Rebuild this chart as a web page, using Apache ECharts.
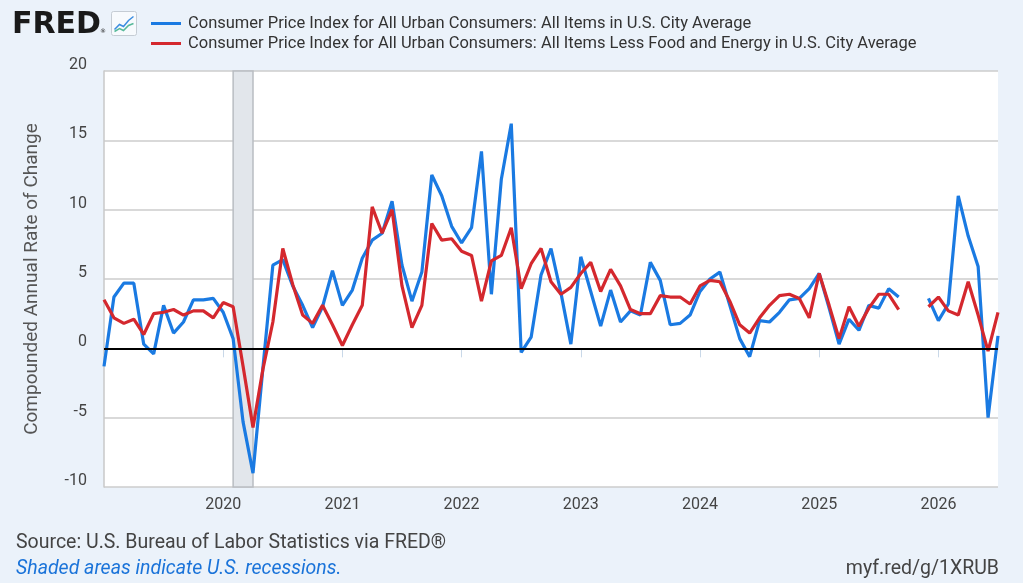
<!DOCTYPE html>
<html><head><meta charset="utf-8">
<script src="https://cdn.jsdelivr.net/npm/echarts/dist/echarts.min.js"></script>
<style>html,body{margin:0;padding:0;background:#ebf2fa;}#c{width:1023px;height:583px;}</style>
</head><body><div id="c"></div>
<script>
// Monthly categories Jan 2019 .. Jul 2026
const months = [];
for (let y = 2019; y <= 2026; y++) {
  for (let m = 1; m <= 12; m++) {
    if (y === 2026 && m > 7) break;
    months.push(y + '-' + String(m).padStart(2, '0'));
  }
}
const cpiAllItems = [
  -1.3, 3.7, 4.7, 4.7, 0.3, -0.4, 3.1, 1.1, 1.9, 3.5, 3.5, 3.6,
  2.6, 0.7, -5.3, -9.0, -1.4, 6.0, 6.4, 4.5, 3.1, 1.5, 3.0, 5.6,
  3.1, 4.2, 6.5, 7.8, 8.3, 10.6, 6.0, 3.4, 5.5, 12.5, 11.0, 8.8,
  7.6, 8.7, 14.2, 3.9, 12.2, 16.2, -0.3, 0.8, 5.3, 7.2, 4.0, 0.3,
  6.6, 4.1, 1.6, 4.2, 1.9, 2.7, 2.4, 6.2, 4.9, 1.7, 1.8, 2.4,
  4.1, 5.0, 5.5, 3.1, 0.7, -0.6, 2.0, 1.9, 2.6, 3.5, 3.6, 4.3,
  5.4, 2.9, 0.3, 2.1, 1.3, 3.1, 2.9, 4.3, 3.7, null, null, 3.6,
  2.0, 3.2, 11.0, 8.1, 5.9, -5.0, 0.9
];
const cpiCore = [
  3.5, 2.2, 1.8, 2.1, 1.0, 2.5, 2.6, 2.8, 2.4, 2.7, 2.7, 2.2,
  3.3, 3.0, -1.3, -5.7, -1.5, 1.9, 7.2, 4.6, 2.4, 1.8, 3.1, 1.7,
  0.2, 1.7, 3.1, 10.2, 8.3, 10.0, 4.5, 1.5, 3.1, 9.0, 7.8, 7.9,
  7.0, 6.7, 3.4, 6.3, 6.7, 8.7, 4.3, 6.1, 7.2, 4.8, 3.9, 4.4,
  5.4, 6.2, 4.1, 5.7, 4.5, 2.8, 2.5, 2.5, 3.8, 3.7, 3.7, 3.2,
  4.5, 4.9, 4.8, 3.4, 1.7, 1.1, 2.2, 3.1, 3.8, 3.9, 3.6, 2.2,
  5.4, 3.1, 0.7, 3.0, 1.6, 2.9, 3.9, 3.9, 2.8, null, null, 3.0,
  3.7, 2.7, 2.4, 4.8, 2.4, -0.2, 2.6
];
const recessionStart = '2020-02';
const recessionEnd = '2020-04';
const seriesNames = [
  'Consumer Price Index for All Urban Consumers: All Items in U.S. City Average',
  'Consumer Price Index for All Urban Consumers: All Items Less Food and Energy in U.S. City Average'
];

const FONT = 'Roboto';
const isYearStart = (i) => months[i].endsWith('-01') && i !== 0;

const chart = echarts.init(document.getElementById('c'));
chart.setOption({
  backgroundColor: '#ebf2fa',
  animation: false,
  grid: { left: 104, right: 25, top: 71, bottom: 96, backgroundColor: '#ffffff', show: true, borderWidth: 0 },
  legend: {
    left: 146, top: 10, orient: 'vertical', icon: 'rect',
    itemWidth: 30, itemHeight: 3, itemGap: 3,
    textStyle: { fontFamily: FONT, fontSize: 16.5, color: '#333', padding: [0, 0, 0, 2] },
    data: seriesNames
  },
  xAxis: {
    type: 'category', data: months, boundaryGap: false,
    axisLine: { show: true, lineStyle: { color: '#c8c8c8', width: 1.5 } },
    axisTick: { show: true, interval: (i) => isYearStart(i), length: 9, lineStyle: { color: '#c9d8e8', width: 1 } },
    axisLabel: {
      interval: (i) => isYearStart(i), formatter: (v) => v.slice(0, 4),
      fontFamily: FONT, fontSize: 16, color: '#444', margin: 10
    },
    splitLine: { show: false }
  },
  yAxis: {
    type: 'value', min: -10, max: 20, interval: 5,
    name: 'Compounded Annual Rate of Change', nameLocation: 'middle', nameGap: 62, nameRotate: 90,
    nameTextStyle: { fontFamily: FONT, fontSize: 19, color: '#555' },
    axisLine: { show: true, lineStyle: { color: '#c8c8c8', width: 1.5 } },
    axisTick: { show: false },
    axisLabel: { fontFamily: FONT, fontSize: 16, color: '#444', margin: 17, verticalAlign: 'bottom', lineHeight: 12 },
    splitLine: { lineStyle: { color: '#cccccc', width: 1.5 } }
  },
  series: [
    {
      name: seriesNames[0], type: 'line', data: cpiAllItems, showSymbol: false, symbol: 'none',
      lineStyle: { color: '#1a7ae2', width: 3.2 }, itemStyle: { color: '#1a7ae2' },
      z: 3,
      markArea: {
        silent: true,
        itemStyle: { color: '#e2e6eb', borderColor: '#b9bdc2', borderWidth: 1.5 },
        data: [[{ xAxis: recessionStart }, { xAxis: recessionEnd }]]
      }
    },
    {
      name: seriesNames[1], type: 'line', data: cpiCore, showSymbol: false, symbol: 'none',
      lineStyle: { color: '#d4282e', width: 3.2 }, itemStyle: { color: '#d4282e' },
      z: 4,
      markLine: {
        silent: true, symbol: 'none', label: { show: false },
        lineStyle: { color: '#000', width: 2, type: 'solid' },
        data: [{ yAxis: 0 }]
      }
    }
  ],
  graphic: [
    { type: 'text', left: 12, top: 10, style: { text: 'FRED', fontFamily: 'DejaVu Sans', fontWeight: 'bold', fontSize: 30, fill: '#1a1a1a' } },
    { type: 'text', left: 100, top: 28, style: { text: '®', fontFamily: 'DejaVu Sans', fontSize: 6, fill: '#1a1a1a' } },
    { type: 'group', left: 111, top: 11, children: [
      { type: 'rect', shape: { x: 0, y: 0, width: 25, height: 24, r: 2 }, style: { fill: '#f7fafd', stroke: '#c5ccd4', lineWidth: 1 } },
      { type: 'polyline', shape: { points: [[3,18],[8,13],[12,15],[17,9],[22,5]] }, style: { stroke: '#3b8de0', lineWidth: 1.5, fill: null } },
      { type: 'polyline', shape: { points: [[3,20],[8,17],[12,19],[17,14],[22,12]] }, style: { stroke: '#57b99a', lineWidth: 1.5, fill: null } }
    ] },
    { type: 'text', left: 16, top: 533, style: { text: 'Source: U.S. Bureau of Labor Statistics via FRED®', fontFamily: FONT, fontSize: 19.5, fill: '#444' } },
    { type: 'text', left: 16, top: 559, style: { text: 'Shaded areas indicate U.S. recessions.', fontFamily: FONT, fontSize: 19.5, fontStyle: 'italic', fill: '#1a73d9' } },
    { type: 'text', right: 24, top: 559, style: { text: 'myf.red/g/1XRUB', fontFamily: FONT, fontSize: 19.5, fill: '#444' } }
  ]
});
</script>
</body></html>
